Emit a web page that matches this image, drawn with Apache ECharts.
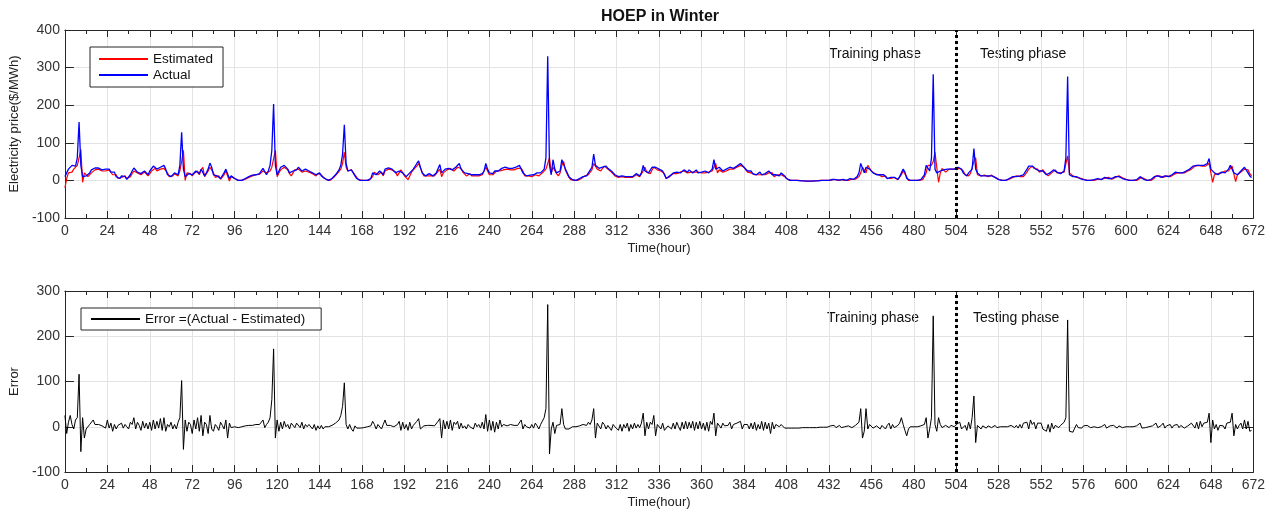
<!DOCTYPE html>
<html>
<head>
<meta charset="utf-8">
<title>HOEP in Winter</title>
<script src="https://cdn.jsdelivr.net/npm/echarts@6/dist/echarts.min.js"></script>
<style>
  html, body { margin: 0; padding: 0; background: #fff; }
  #chart { width: 1268px; height: 510px; }
</style>
</head>
<body>
<div id="chart"></div>
<script>
// hourly values, one row per day (24 h), hours 0..671
const actual = [
  10,20,30,25,40,35,38,60,155,40,10,10,12,15,20,28,32,33,34,33,30,28,25,30,
  33,30,22,18,22,10,8,5,12,15,10,3,5,15,25,33,28,22,25,18,20,25,22,15,
  25,30,38,35,30,28,35,33,40,30,15,12,10,15,20,18,15,40,128,30,10,15,18,20,
  15,20,25,30,18,30,25,12,20,30,46,35,15,10,12,15,5,8,20,30,28,5,12,10,
  5,2,0,0,0,2,5,8,10,12,14,15,15,16,18,20,32,30,15,25,40,80,203,40,
  15,25,35,30,40,38,30,20,15,25,30,28,35,30,25,20,30,28,25,22,20,18,15,20,
  20,12,10,5,2,0,3,5,10,15,20,28,40,70,148,45,25,22,28,20,12,5,2,0,
  0,0,0,0,0,5,20,25,15,18,25,20,15,30,32,33,33,30,28,20,15,25,30,20,
  15,10,5,20,25,30,35,45,52,35,20,15,12,15,18,15,12,15,20,25,42,20,25,30,
  30,32,35,28,30,35,40,45,30,25,20,15,18,20,15,12,15,18,15,20,18,25,45,30,
  20,22,18,25,30,25,28,32,30,35,33,32,30,32,30,35,38,40,35,20,15,12,15,14,
  12,15,18,20,15,20,25,30,60,330,40,15,55,30,20,15,25,55,50,30,20,10,5,2,
  0,0,2,5,8,10,15,12,20,25,35,70,40,35,32,30,35,40,38,32,28,25,20,15,
  12,10,15,12,8,10,12,10,12,10,15,18,15,12,20,40,25,30,20,25,35,40,35,30,
  30,28,25,15,5,8,12,15,20,18,22,25,20,25,28,25,22,28,25,20,25,28,20,25,
  22,18,25,30,20,25,30,55,30,25,35,30,25,22,30,32,35,30,32,35,38,42,45,40,
  35,30,25,20,25,18,20,15,18,22,15,20,18,15,25,30,15,12,15,18,12,20,18,12,
  5,2,0,0,0,0,0,0,-1,-1,-1,-2,-2,-2,-2,-2,-1,-1,-1,0,0,0,0,0,
  0,2,3,5,2,0,1,5,3,0,0,2,5,2,3,5,10,20,45,40,20,35,40,30,
  25,20,18,15,18,15,12,15,10,5,3,8,10,8,5,3,10,20,30,22,5,0,0,0,
  0,0,0,0,2,5,15,40,45,25,60,282,30,20,15,25,30,28,25,30,28,30,32,30,
  32,35,35,30,20,15,12,20,15,30,85,30,20,15,12,14,12,10,12,15,12,10,8,5,
  2,0,0,0,0,2,5,8,10,12,10,8,12,10,15,20,30,38,40,38,35,30,28,25,
  30,25,20,15,10,20,25,28,25,22,20,18,22,25,60,276,15,12,10,8,10,8,5,3,
  2,0,0,0,0,0,2,3,5,3,2,5,8,10,5,3,5,8,10,12,10,8,5,3,
  2,0,0,0,0,0,2,5,10,8,3,0,0,0,2,5,10,15,12,10,8,10,12,15,
  10,12,15,20,22,18,20,18,20,22,25,28,30,35,38,35,40,38,40,35,40,38,45,58,
  30,25,20,18,15,20,22,25,20,25,30,40,35,20,18,15,20,25,30,35,30,20,12,8
];

const estimated = [
  -20,5,20,25,22,30,35,40,60,82,-5,20,25,10,15,20,25,28,30,30,28,25,22,25,
  30,28,25,15,18,15,5,3,8,12,12,5,3,10,18,25,28,20,22,15,18,22,20,12,
  18,25,30,32,25,22,30,28,32,35,20,10,8,12,18,15,12,25,50,80,0,20,15,18,
  12,18,22,25,15,28,35,10,15,25,35,40,20,8,10,12,3,5,15,25,30,-2,10,8,
  5,2,0,0,0,0,3,5,8,10,12,14,15,15,16,18,25,30,20,15,25,35,40,80,
  10,20,28,32,35,38,28,18,12,20,28,25,30,32,22,18,25,28,22,20,18,15,12,18,
  18,15,8,5,2,0,0,3,8,12,18,22,30,45,75,35,25,20,28,30,15,8,2,0,
  0,0,0,0,0,2,10,22,20,15,20,22,12,25,28,30,30,28,25,22,12,20,28,25,
  12,8,2,12,22,28,30,38,45,40,22,12,10,12,15,12,10,12,18,20,30,10,20,25,
  28,30,32,30,25,30,35,40,32,22,18,12,15,18,12,10,12,15,12,15,15,20,35,35,
  15,18,15,20,25,22,25,28,28,30,30,30,28,30,28,30,32,35,32,25,12,10,12,12,
  10,12,15,18,12,15,20,25,30,45,60,20,35,40,18,12,20,40,50,28,18,8,2,0,
  0,0,0,2,5,8,12,10,15,20,28,45,50,30,28,25,32,38,35,30,25,22,18,12,
  10,8,12,10,5,8,10,8,10,8,12,15,12,10,15,25,35,22,25,18,28,35,30,28,
  28,25,22,18,5,5,10,12,18,20,18,22,22,20,25,22,20,25,22,18,22,25,22,20,
  20,15,20,25,22,20,25,35,45,20,28,30,22,20,25,28,30,28,30,32,35,38,40,38,
  35,28,22,18,20,20,15,12,15,18,15,15,15,12,20,25,20,10,12,15,10,15,15,10,
  5,2,0,0,0,0,0,0,-1,-1,-1,-2,-2,-2,-2,-2,-1,-1,-1,0,0,0,0,0,
  0,0,2,3,3,0,0,2,3,0,0,0,3,3,2,3,5,10,20,35,40,20,40,35,
  25,22,18,15,15,18,10,12,12,5,2,5,8,8,5,2,5,15,25,28,10,0,0,0,
  0,0,0,0,0,2,10,20,40,35,40,50,75,35,-5,20,32,30,22,25,30,28,30,30,
  30,30,32,35,25,15,10,12,18,15,50,60,15,12,12,12,14,12,10,12,14,12,8,5,
  3,0,0,0,0,0,3,5,8,10,12,8,10,12,10,15,22,30,35,38,32,28,30,22,
  25,28,22,18,12,12,20,25,28,20,22,20,18,22,25,65,20,15,12,10,8,10,6,4,
  3,1,0,0,0,0,0,2,3,5,3,3,5,8,8,5,3,5,8,10,12,10,7,5,
  3,1,0,0,0,0,0,2,6,10,6,2,0,0,0,3,6,12,14,12,10,8,10,12,
  14,10,12,16,20,20,18,20,18,20,22,25,28,30,35,38,35,40,38,38,35,38,40,45,
  40,-5,15,20,18,15,20,22,25,20,25,30,38,35,-3,15,18,22,25,30,32,28,18,12
];

// error
const errorVals = [
  25,-15,10,25,5,-5,15,20,116,-55,20,-25,-5,-2,5,8,15,5,6,5,3,2,0,-3,
  15,-3,8,-10,5,-5,3,0,8,-3,5,0,-5,10,5,20,-5,10,3,-8,12,-3,8,-5,
  10,-8,15,-5,12,-3,18,-8,20,-10,5,0,10,-5,5,-5,10,20,102,-50,15,-10,10,5,
  -15,15,-5,20,-10,25,-20,10,5,-15,25,-5,-10,5,0,-8,10,3,-5,15,-25,8,-2,0,
  0,0,-2,-2,0,0,2,3,3,2,3,2,5,3,5,10,15,-2,5,10,20,60,172,-25,
  15,-10,10,-5,12,0,5,-5,8,5,-2,8,5,-2,10,-5,5,0,5,3,-5,5,-8,2,
  -5,3,-5,0,0,0,2,3,5,8,10,15,25,45,97,5,-5,5,-5,-10,2,-3,-5,-3,
  -3,-2,0,0,0,2,12,5,-5,5,2,-5,5,15,3,5,3,2,0,-3,5,12,-8,10,
  -5,5,-8,10,-5,3,5,12,18,-5,-8,2,0,3,2,3,0,2,5,12,18,-25,15,-5,
  12,-5,15,-8,10,5,12,-5,8,-3,2,-5,5,0,3,-5,8,0,5,-3,10,-5,27,-10,
  15,-8,12,-12,10,-5,15,0,5,3,2,3,5,2,3,5,3,5,15,-5,5,0,3,-3,
  5,-3,8,2,-5,5,3,20,40,270,-60,-5,10,-15,3,0,5,40,5,-5,-3,-5,-2,0,
  0,0,2,2,3,5,8,3,10,5,15,40,-25,8,5,-5,10,5,-5,3,5,-8,5,0,
  3,-8,5,-10,5,-3,8,-10,5,-5,8,-3,5,-2,8,30,-20,10,-5,10,5,25,-20,5,
  5,-5,8,-8,-5,2,5,-5,8,-5,10,0,-8,10,-5,12,-5,10,-3,12,-8,10,-5,12,
  -5,8,-8,10,-10,12,5,30,-20,8,5,-3,8,2,5,3,10,-5,5,3,8,5,12,-5,
  5,3,5,-5,8,-5,10,-8,5,-5,12,-8,10,-5,8,-15,10,-5,5,3,0,5,2,-3,
  -3,-3,-3,-3,-3,-3,-3,-3,-3,-2,-2,-2,-2,-2,-2,-2,-2,-2,-2,-1,-1,-1,-1,-1,
  -1,2,0,3,-2,0,3,-2,2,0,-3,2,3,-2,0,3,5,10,40,-25,-10,40,-5,5,
  2,-3,0,2,5,-5,3,0,-5,3,8,-5,5,-2,0,3,8,20,5,-8,-20,-5,0,0,
  0,0,0,0,2,3,5,20,-25,-5,20,245,5,-10,20,5,-2,-5,3,5,-2,3,2,0,
  5,2,10,-5,-5,3,-8,10,-5,20,68,-35,3,5,-5,2,0,-3,2,3,-2,0,3,-2,
  -3,0,0,0,0,0,2,3,2,-2,3,-3,5,-3,8,5,10,-5,15,5,10,-5,8,5,
  8,-5,-3,-10,5,-12,8,-5,3,2,-2,3,5,10,20,236,-10,-10,-12,-3,5,-2,0,-3,
  2,-2,3,0,-2,2,0,3,-2,2,0,3,5,-3,0,2,-2,3,5,-3,2,0,-2,0,
  0,0,0,0,0,0,2,5,8,-3,0,-2,0,0,0,2,5,8,-2,0,3,8,-3,2,
  0,5,-3,3,2,5,-2,3,2,-3,0,2,3,8,5,-3,10,-5,12,0,8,5,10,30,
  -35,15,-5,5,-8,3,5,2,-5,8,5,10,30,-20,5,-5,3,8,-5,15,-5,12,-10,-8
];

const splitHour = 504;   // training / testing boundary
const FONT = "'Liberation Sans', Arial, sans-serif";
const AXIS_COLOR = "#262626";
const GRID_COLOR = "#e3e3e3";

const toPairs = (arr) => arr.map((v, i) => [i, v]);

function bottomX(gridIndex) {
  return {
    gridIndex, type: "value", min: 0, max: 672, interval: 24, position: "bottom",
    axisLine: { show: true, onZero: false, lineStyle: { color: AXIS_COLOR } },
    axisTick: { show: true, inside: true, length: 7, lineStyle: { color: AXIS_COLOR } },
    minorTick: { show: true, splitNumber: 2, length: 4, lineStyle: { color: AXIS_COLOR } },
    axisLabel: { fontSize: 14, color: "#333", margin: 6, fontFamily: FONT },
    splitLine: { show: true, lineStyle: { color: GRID_COLOR } },
    name: "Time(hour)", nameLocation: "middle", nameGap: 24,
    nameTextStyle: { fontSize: 13, color: "#222", fontFamily: FONT },
  };
}

function topX(gridIndex) {
  return {
    gridIndex, type: "value", min: 0, max: 672, interval: 24, position: "top",
    axisLine: { show: true, onZero: false, lineStyle: { color: AXIS_COLOR } },
    axisTick: { show: true, inside: true, length: 7, lineStyle: { color: AXIS_COLOR } },
    minorTick: { show: true, splitNumber: 2, length: 4, lineStyle: { color: AXIS_COLOR } },
    axisLabel: { show: false },
    splitLine: { show: false },
  };
}

function leftY(gridIndex, min, max, name) {
  return {
    gridIndex, type: "value", min, max, interval: 100, position: "left",
    axisLine: { show: true, onZero: false, lineStyle: { color: AXIS_COLOR } },
    axisTick: { show: true, inside: true, length: 9, lineStyle: { color: AXIS_COLOR } },
    axisLabel: { fontSize: 14, color: "#333", margin: 5, fontFamily: FONT },
    splitLine: { show: true, lineStyle: { color: GRID_COLOR } },
    name, nameLocation: "middle", nameGap: 37,
    nameTextStyle: { fontSize: 13, color: "#222", fontFamily: FONT },
  };
}

function rightY(gridIndex, min, max) {
  return {
    gridIndex, type: "value", min, max, interval: 100, position: "right",
    axisLine: { show: true, onZero: false, lineStyle: { color: AXIS_COLOR } },
    axisTick: { show: true, inside: true, length: 9, lineStyle: { color: AXIS_COLOR } },
    axisLabel: { show: false },
    splitLine: { show: false },
  };
}

const phaseLine = {
  symbol: "none", silent: true, label: { show: false },
  lineStyle: { color: "#000", type: [3, 3], width: 3 },
  data: [{ xAxis: splitHour }],
};

function phaseText(x, y, text) {
  return { type: "text", left: x, top: y, style: { text, fill: "#111", font: `14px ${FONT}` } };
}

const legendBase = {
  orient: "vertical", icon: "rect", itemWidth: 49, itemHeight: 2,
  borderColor: AXIS_COLOR, borderWidth: 1, backgroundColor: "#fff",
  textStyle: { fontSize: 13.5, color: "#111", fontFamily: FONT },
};

const chart = echarts.init(document.getElementById("chart"));
chart.setOption({
  animation: false,
  backgroundColor: "#fff",
  textStyle: { fontFamily: FONT },
  grid: [
    { left: 63, right: 11, top: 30, height: 188 },
    { left: 63, right: 11, top: 291, height: 187 },
  ],
  xAxis: [bottomX(0), topX(0), bottomX(1), topX(1)],
  yAxis: [
    leftY(0, -100, 400, "Electricity price($/MWh)"),
    rightY(0, -100, 400),
    leftY(1, -100, 300, "Error"),
    rightY(1, -100, 300),
  ],
  legend: [
    Object.assign({}, legendBase, {
      data: ["Estimated", "Actual"], left: 90, top: 47,
      padding: [5, 10, 5, 9], itemGap: 2,
    }),
    Object.assign({}, legendBase, {
      data: ["Error =(Actual - Estimated)"], left: 81, top: 308,
      padding: [4, 16, 4, 10],
    }),
  ],
  graphic: [
    { type: "text", x: 660, y: 9, style: { text: "HOEP in Winter", fill: "#111", font: `bold 16px ${FONT}`, align: "center" } },
    phaseText(829, 47, "Training phase"),
    phaseText(980, 47, "Testing phase"),
    phaseText(827, 311, "Training phase"),
    phaseText(973, 311, "Testing phase"),
  ],
  series: [
    {
      name: "Estimated", type: "line", xAxisIndex: 0, yAxisIndex: 0,
      data: toPairs(estimated), symbol: "none", color: "#ff0000",
      lineStyle: { width: 1.2 },
    },
    {
      name: "Actual", type: "line", xAxisIndex: 0, yAxisIndex: 0,
      data: toPairs(actual), symbol: "none", color: "#0000ff",
      lineStyle: { width: 1.3 }, markLine: phaseLine,
    },
    {
      name: "Error =(Actual - Estimated)", type: "line", xAxisIndex: 2, yAxisIndex: 2,
      data: toPairs(errorVals), symbol: "none", color: "#000",
      lineStyle: { width: 1 }, markLine: phaseLine,
    },
  ],
});
</script>
</body>
</html>
